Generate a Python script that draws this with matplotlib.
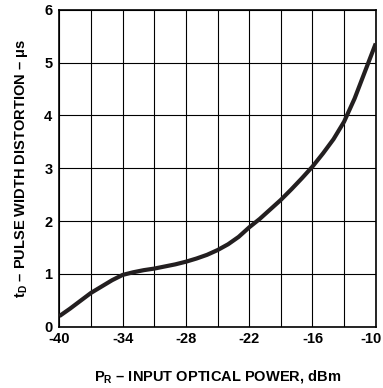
import matplotlib
matplotlib.use("Agg")
import matplotlib.pyplot as plt
import matplotlib.transforms as mtransforms

plt.rcParams['font.family'] = ['Liberation Sans', 'DejaVu Sans']
plt.rcParams['font.weight'] = 'bold'
plt.rcParams['axes.unicode_minus'] = False
plt.rcParams['mathtext.fontset'] = 'custom'
plt.rcParams['mathtext.rm'] = 'Liberation Sans:bold'
plt.rcParams['mathtext.it'] = 'Liberation Sans:bold'

# input optical power (dBm) vs pulse width distortion (us)
power = [-40, -39, -38, -37, -36, -35, -34, -33, -32, -31, -30, -29, -28,
         -27, -26, -25, -24, -23, -22, -21, -20, -19, -18, -17, -16,
         -15, -14, -13, -12, -11, -10]
distortion = [0.20, 0.34, 0.49, 0.64, 0.76, 0.88, 0.98, 1.03, 1.07, 1.10,
              1.14, 1.18, 1.23, 1.29, 1.36, 1.45, 1.56, 1.70, 1.88, 2.04,
              2.22, 2.40, 2.60, 2.81, 3.03, 3.28, 3.55, 3.88, 4.32, 4.84, 5.36]

xticks = [-40, -34, -28, -22, -16, -10]
xgrid = [-37, -31, -25, -19, -13]
yticks = [0, 1, 2, 3, 4, 5, 6]

fig = plt.figure(figsize=(3.83, 3.88), dpi=100)
ax = fig.add_axes([0.155, 0.158, 0.826, 0.817])

ax.plot(power, distortion, color="#231f20", linewidth=3, solid_capstyle="butt", zorder=3)

ax.set_xlim(-40, -10)
ax.set_ylim(0, 6)
ax.set_xticks(xticks)
ax.set_xticks(xgrid, minor=True)
ax.set_yticks(yticks)
ax.grid(True, which="both", color="black", linewidth=0.8)
ax.tick_params(which="both", length=0, labelsize=10.5)
ax.tick_params(axis="x", pad=4)
ax.tick_params(axis="y", pad=5)
for s in ax.spines.values():
    s.set_linewidth(1.2)

# nudge the last x label inward so it stays on the canvas
last = ax.get_xticklabels()[-1]
last.set_transform(last.get_transform() +
                   mtransforms.ScaledTranslation(-5 / 100, 0, fig.dpi_scale_trans))

ax.set_xlabel(r"P$_{\mathrm{R}}$ – INPUT OPTICAL POWER, dBm", fontsize=10.5,
              fontweight="bold", labelpad=16)
ax.set_ylabel(r"t$_{\mathrm{D}}$ – PULSE WIDTH DISTORTION – μs", fontsize=10.5,
              fontweight="bold", labelpad=10)

fig.savefig("out.png", dpi=100)
